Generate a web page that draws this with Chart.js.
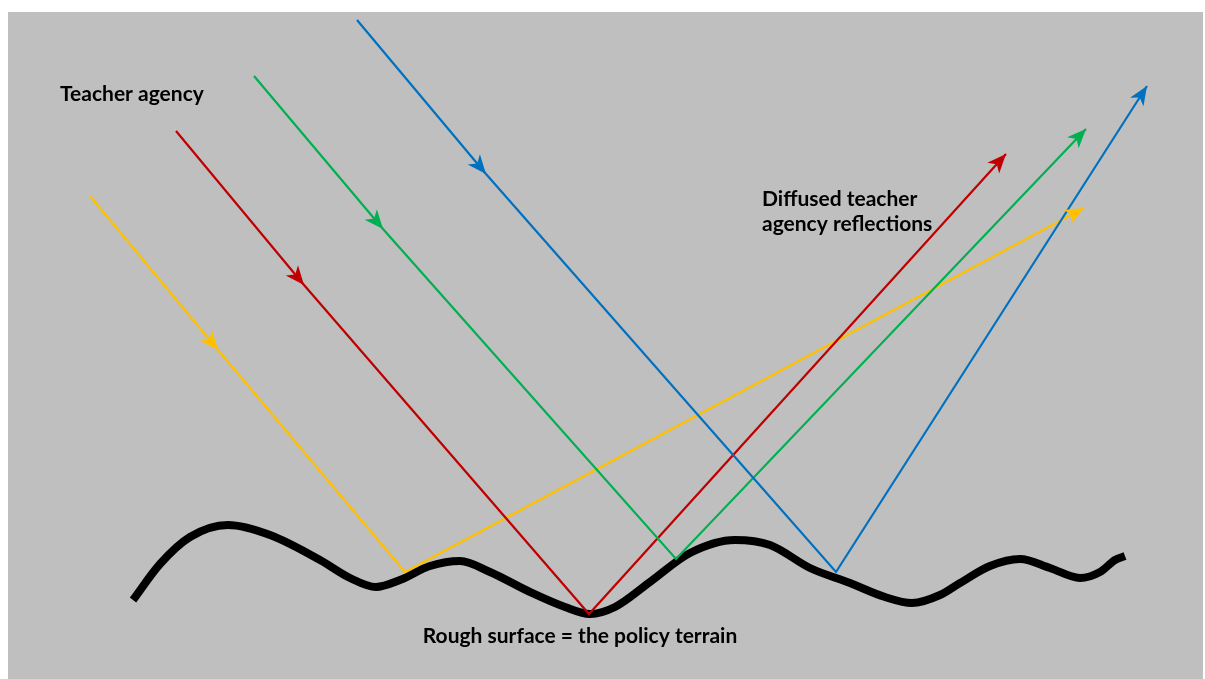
<!DOCTYPE html>
<html>
<head>
<meta charset="utf-8">
<script src="https://cdn.jsdelivr.net/npm/chart.js@4/dist/chart.umd.min.js"></script>
<style>
html,body{margin:0;padding:0;background:#ffffff;}
#wrap{width:1205px;height:679px;}
</style>
</head>
<body>
<div id="wrap"><canvas id="c" width="1205" height="679"></canvas></div>
<script>
// Ray paths: start, mid-arrow tip, reflection point, end (arrow tip)
const yellowRay = [[90,196],[218,350],[405,572],[1084,208]];
const redRay    = [[176,131],[304,285],[589,614],[1006,154]];
const greenRay  = [[254,76],[383,229],[676,559],[1086,129]];
const blueRay   = [[357,20],[486,174],[836,572],[1147,86]];
// Rough surface (policy terrain)
const terrainX = [133,160,190,228,270,320,350,376,400,430,460,490,530,565,590,615,650,690,735,770,810,850,885,912,940,960,990,1020,1050,1080,1100,1115,1125];
const terrainY = [600,564,537,525,535,560,578,587,580,566,561,572,592,607,614,607,582,553,540,545,568,583,597,603,595,583,566,559,568,578,572,560,556];
// Labels
const labelTexts = ["Teacher agency","Diffused teacher","agency reflections","Rough surface = the policy terrain"];
const labelPos = [[60,94],[762,199],[762,224],[580,636]];
const labelAlign = ["left","left","left","center"];

const toPts = a => a.map(p => ({x:p[0], y:p[1]}));
const terrain = terrainX.map((x,i)=>({x:x, y:terrainY[i]}));

const colors = {yellow:'#ffc000', red:'#c00000', green:'#00b050', blue:'#0070c0'};

function rayDS(pts,col,ord){
  return {data:toPts(pts), borderColor:col, backgroundColor:col, borderWidth:2.2, showLine:true,
          pointRadius:0, tension:0, order:ord, arrow:true};
}

const bgPlugin = {
  id:'bg',
  beforeDraw(chart){
    const {ctx, scales:{x,y}} = chart;
    ctx.save();
    ctx.fillStyle = '#bfbfbf';
    const x0 = x.getPixelForValue(8), y0 = y.getPixelForValue(12);
    const x1 = x.getPixelForValue(1203), y1 = y.getPixelForValue(679);
    ctx.fillRect(x0,y0,x1-x0,y1-y0);
    ctx.restore();
  }
};

function drawHead(ctx, tip, from, col){
  const ang = Math.atan2(tip.y-from.y, tip.x-from.x);
  const L = 19, W = 8;
  ctx.save();
  ctx.translate(tip.x, tip.y);
  ctx.rotate(ang);
  ctx.fillStyle = col;
  ctx.beginPath();
  ctx.moveTo(0,0);
  ctx.lineTo(-L, -W);
  ctx.lineTo(-L*0.72, 0);
  ctx.lineTo(-L, W);
  ctx.closePath();
  ctx.fill();
  ctx.restore();
}

const arrowPlugin = {
  id:'arrows',
  afterDatasetsDraw(chart){
    const ctx = chart.ctx;
    chart.data.datasets.forEach((ds,i)=>{
      if(!ds.arrow) return;
      const pts = chart.getDatasetMeta(i).data;
      drawHead(ctx, pts[1], pts[0], ds.borderColor);
      drawHead(ctx, pts[3], pts[2], ds.borderColor);
    });
    const {x,y} = chart.scales;
    ctx.save();
    ctx.fillStyle = '#000000';
    ctx.textBaseline = 'middle';
    labelTexts.forEach((t,i)=>{
      ctx.font = 'bold 21px Lato, "Open Sans", sans-serif';
      ctx.textAlign = labelAlign[i];
      ctx.fillText(t, x.getPixelForValue(labelPos[i][0]), y.getPixelForValue(labelPos[i][1]));
    });
    ctx.restore();
  }
};

new Chart(document.getElementById('c'), {
  type:'scatter',
  data:{
    datasets:[
      rayDS(yellowRay, colors.yellow, 4),
      rayDS(redRay, colors.red, 3),
      rayDS(greenRay, colors.green, 2),
      rayDS(blueRay, colors.blue, 1),
      {data:terrain, borderColor:'#000000', borderWidth:8, showLine:true, pointRadius:0,
       tension:0.4, cubicInterpolationMode:'monotone', order:10, borderCapStyle:'butt', borderJoinStyle:'round'}
    ]
  },
  options:{
    responsive:false,
    animation:false,
    layout:{padding:0},
    plugins:{legend:{display:false}, tooltip:{enabled:false}},
    scales:{
      x:{type:'linear', min:0, max:1205, display:false},
      y:{type:'linear', min:0, max:679, reverse:true, display:false}
    }
  },
  plugins:[bgPlugin, arrowPlugin]
});
</script>
</body>
</html>
